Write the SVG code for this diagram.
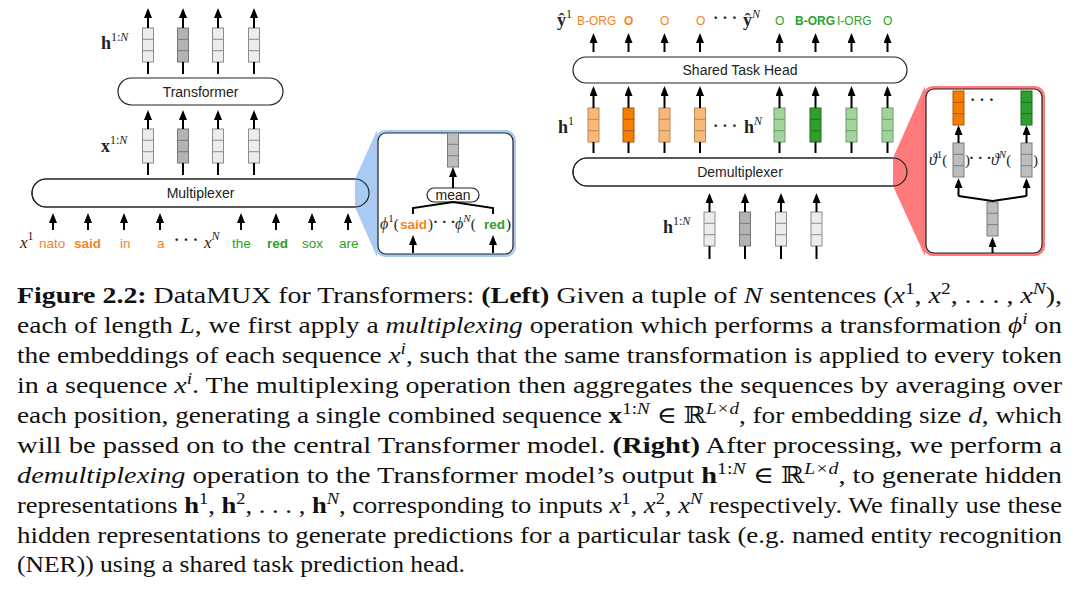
<svg xmlns="http://www.w3.org/2000/svg" xmlns:xlink="http://www.w3.org/1999/xlink" width="1080" height="591" viewBox="0 0 1080 591">
<style>
.pill{fill:#fff;stroke:#222;stroke-width:1.2;}
.lbl{font-family:"Liberation Sans",Arial,sans-serif;font-size:14px;fill:#222;text-anchor:middle;}
.w{font-family:"Liberation Sans",Arial,sans-serif;font-size:13.5px;}
.t{font-family:"Liberation Sans",Arial,sans-serif;font-size:12px;}
.or{fill:#f5841f;}
.gr{fill:#2ca02c;}
.b{font-weight:bold;}
.m{font-family:"Liberation Serif","DejaVu Serif",serif;fill:#222;}
.arr line{stroke:#000;stroke-width:2;marker-end:url(#ah);}
.ln{stroke:#000;stroke-width:2;fill:none;}
.lg{fill:#ececec;stroke:#8c8c8c;}
.dg{fill:#b3b3b3;stroke:#777;}
.cg{fill:#bdbdbd;stroke:#7c7c7c;}
.lo{fill:#f9b778;stroke:#b8895a;}
.do{fill:#f57e00;stroke:#a85a10;}
.lgr{fill:#a1d49a;stroke:#6f9a6a;}
.dgr{fill:#2e9e2e;stroke:#1f6f1f;}
.cap{font-family:"Liberation Serif","DejaVu Serif",serif;font-size:23px;fill:#111;}
</style>
<defs>
<marker id="ah" viewBox="0 0 10 8" refX="7" refY="4" markerWidth="10" markerHeight="8" markerUnits="userSpaceOnUse" orient="auto"><path d="M0,0 L10,4 L0,8 z" fill="#000"/></marker>
<g id="vec" stroke-width="1"><rect x="-5.5" y="0" width="11" height="34"/><line x1="-5.5" y1="11.3" x2="5.5" y2="11.3"/><line x1="-5.5" y1="22.7" x2="5.5" y2="22.7"/></g>
</defs>

<g id="transformer"><rect class="pill" x="118" y="78" width="165" height="27" rx="13.5"/><text class="lbl" x="200.5" y="96.5">Transformer</text></g>
<g id="multiplexer"><rect class="pill" x="32" y="179" width="337" height="28" rx="14"/></g>
<g id="mux-callout">
<polygon points="355,179 377,130 377,257 355,207" fill="#a9cbf3"/>
<rect x="375" y="130" width="141" height="127" rx="10" fill="#a9cbf3"/>
<rect x="378" y="133" width="135" height="121" rx="8" fill="#fff" stroke="#222" stroke-width="1.2"/>
</g>
<g id="multiplexer-outline"><rect x="32" y="179" width="337" height="28" rx="14" fill="none" stroke="#222" stroke-width="1.2"/><text class="lbl" x="200.5" y="198">Multiplexer</text></g>

<g id="h-left">
<use xlink:href="#vec" class="lg" transform="translate(148,28)"/>
<use xlink:href="#vec" class="dg" transform="translate(183,28)"/>
<use xlink:href="#vec" class="lg" transform="translate(218,28)"/>
<use xlink:href="#vec" class="lg" transform="translate(254,28)"/>
<text class="m" x="101" y="49" font-size="18" font-weight="bold">h<tspan dy="-8" font-size="12" font-weight="normal">1:<tspan font-style="italic">N</tspan></tspan></text>
</g>
<g id="x-left">
<use xlink:href="#vec" class="lg" transform="translate(148,129)"/>
<use xlink:href="#vec" class="dg" transform="translate(183,129)"/>
<use xlink:href="#vec" class="lg" transform="translate(218,129)"/>
<use xlink:href="#vec" class="lg" transform="translate(254,129)"/>
<text class="m" x="101" y="152" font-size="18" font-weight="bold">x<tspan dy="-8" font-size="12" font-weight="normal">1:<tspan font-style="italic">N</tspan></tspan></text>
</g>
<g id="inputs">
<text class="m" x="20" y="248" font-size="17" font-style="italic">x<tspan dy="-8" font-size="12" font-style="normal">1</tspan></text>
<text class="w or" x="39" y="248">nato</text>
<text class="w or b" x="74" y="248">said</text>
<text class="w or" x="120" y="248">in</text>
<text class="w or" x="157" y="248">a</text>
<text class="m" x="174" y="245" font-size="16" font-weight="bold">· · ·</text>
<text class="m" x="204" y="248" font-size="17" font-style="italic">x<tspan dy="-8" font-size="12">N</tspan></text>
<text class="w gr" x="232" y="248">the</text>
<text class="w gr b" x="267" y="248">red</text>
<text class="w gr" x="302" y="248">sox</text>
<text class="w gr" x="339" y="248">are</text>
</g>
<g id="mux-detail">
<use xlink:href="#vec" class="cg" transform="translate(453,133)"/>
<rect class="pill" x="427" y="188" width="52" height="14" rx="7"/>
<text class="lbl" x="453" y="200" font-size="14.5">mean</text>
<text x="380" y="229" class="m" font-size="16" font-style="italic">ϕ<tspan dy="-7" font-size="11" font-style="normal">1</tspan><tspan dy="7" font-style="normal" font-size="15">(</tspan></text>
<text class="w or b" x="400" y="229" font-size="14">said</text>
<text class="m" x="428" y="229" font-size="15">)</text>
<text class="m" x="433" y="227" font-size="15" font-weight="bold">· · ·</text>
<text x="455" y="229" class="m" font-size="16" font-style="italic">ϕ<tspan dy="-7" font-size="11">N</tspan><tspan dy="7" font-style="normal" font-size="15">(</tspan></text>
<text class="w gr b" x="484" y="229">red</text>
<text class="m" x="506" y="229" font-size="15">)</text>
</g>

<g id="shared-task-head"><rect class="pill" x="573" y="57" width="334" height="26" rx="13"/><text class="lbl" x="740" y="75">Shared Task Head</text></g>
<g id="demultiplexer"><rect class="pill" x="573" y="158" width="334" height="28" rx="14"/></g>
<g id="demux-callout">
<polygon points="893,158 925,86 925,256 893,186" fill="#ff7a7a"/>
<rect x="923" y="86" width="122" height="170" rx="10" fill="#ff7a7a"/>
<rect x="926" y="89" width="116" height="164" rx="8" fill="#fff" stroke="#222" stroke-width="1.2"/>
</g>
<g id="demultiplexer-outline"><rect x="573" y="158" width="334" height="28" rx="14" fill="none" stroke="#222" stroke-width="1.2"/><text class="lbl" x="740" y="177">Demultiplexer</text></g>

<g id="outputs">
<text class="m" x="557" y="26" font-size="18" font-weight="bold">ŷ<tspan dy="-8" font-size="12" font-weight="normal">1</tspan></text>
<text class="t or" x="577" y="25">B-ORG</text>
<text class="t or b" x="624" y="25">O</text>
<text class="t or" x="660" y="25">O</text>
<text class="t or" x="696" y="25">O</text>
<text class="m" x="713" y="23" font-size="16" font-weight="bold">· · ·</text>
<text class="m" x="743" y="26" font-size="18" font-weight="bold">ŷ<tspan dy="-8" font-size="12" font-weight="normal" font-style="italic">N</tspan></text>
<text class="t gr" x="775" y="25">O</text>
<text class="t gr b" x="795" y="25">B-ORG</text>
<text class="t gr" x="837" y="25">I-ORG</text>
<text class="t gr" x="883" y="25">O</text>
</g>
<g id="h-right">
<use xlink:href="#vec" class="lo" transform="translate(593.5,108)"/>
<use xlink:href="#vec" class="do" transform="translate(628.5,108)"/>
<use xlink:href="#vec" class="lo" transform="translate(664.5,108)"/>
<use xlink:href="#vec" class="lo" transform="translate(700,108)"/>
<use xlink:href="#vec" class="lgr" transform="translate(779.5,108)"/>
<use xlink:href="#vec" class="dgr" transform="translate(815.5,108)"/>
<use xlink:href="#vec" class="lgr" transform="translate(851.5,108)"/>
<use xlink:href="#vec" class="lgr" transform="translate(887.5,108)"/>
<text class="m" x="558" y="133" font-size="18" font-weight="bold">h<tspan dy="-8" font-size="12" font-weight="normal">1</tspan></text>
<text class="m" x="713" y="131" font-size="16" font-weight="bold">· · ·</text>
<text class="m" x="744" y="133" font-size="18" font-weight="bold">h<tspan dy="-8" font-size="12" font-weight="normal" font-style="italic">N</tspan></text>
</g>
<g id="h-in-right">
<use xlink:href="#vec" class="lg" transform="translate(709.5,212)"/>
<use xlink:href="#vec" class="dg" transform="translate(745,212)"/>
<use xlink:href="#vec" class="lg" transform="translate(781,212)"/>
<use xlink:href="#vec" class="lg" transform="translate(816.5,212)"/>
<text class="m" x="663" y="233" font-size="18" font-weight="bold">h<tspan dy="-8" font-size="12" font-weight="normal">1:<tspan font-style="italic">N</tspan></tspan></text>
</g>
<g id="demux-detail">
<use xlink:href="#vec" class="do" transform="translate(958.5,91)"/>
<use xlink:href="#vec" class="dgr" transform="translate(1026.5,91)"/>
<text class="m" x="970" y="105" font-size="16" font-weight="bold">· · ·</text>
<use xlink:href="#vec" class="cg" transform="translate(958.5,143)"/>
<use xlink:href="#vec" class="cg" transform="translate(1026.5,143)"/>
<use xlink:href="#vec" class="cg" transform="translate(992.5,202)"/>
<text class="m" x="929" y="165" font-size="16" font-style="italic">ϑ<tspan dy="-7" font-size="11" font-style="normal">1</tspan><tspan dy="7" font-style="normal" font-size="15">(</tspan></text>
<text class="m" x="965" y="165" font-size="15">)</text>
<text class="m" x="969" y="163" font-size="15" font-weight="bold">· · ·</text>
<text class="m" x="991" y="165" font-size="16" font-style="italic">ϑ<tspan dy="-7" font-size="11">N</tspan><tspan dy="7" font-style="normal" font-size="15">(</tspan></text>
<text class="m" x="1033" y="165" font-size="15">)</text>
</g>

<g id="connectors">
<g class="arr">
<line x1="148" y1="28" x2="148" y2="11"/><line x1="183" y1="28" x2="183" y2="11"/><line x1="218" y1="28" x2="218" y2="11"/><line x1="254" y1="28" x2="254" y2="11"/>
<line x1="148" y1="129" x2="148" y2="113"/><line x1="183" y1="129" x2="183" y2="113"/><line x1="218" y1="129" x2="218" y2="113"/><line x1="254" y1="129" x2="254" y2="113"/>
<line x1="53" y1="230" x2="53" y2="216"/><line x1="88" y1="230" x2="88" y2="216"/><line x1="124" y1="230" x2="124" y2="216"/><line x1="160" y1="230" x2="160" y2="216"/>
<line x1="241" y1="230" x2="241" y2="216"/><line x1="276" y1="230" x2="276" y2="216"/><line x1="312" y1="230" x2="312" y2="216"/><line x1="348" y1="230" x2="348" y2="216"/>
<line x1="453" y1="188" x2="453" y2="170"/>
<line x1="413" y1="253" x2="413" y2="238"/><line x1="493" y1="253" x2="493" y2="238"/>
<line x1="593.5" y1="52" x2="593.5" y2="36"/><line x1="628.5" y1="52" x2="628.5" y2="36"/><line x1="664.5" y1="52" x2="664.5" y2="36"/><line x1="700" y1="52" x2="700" y2="36"/>
<line x1="779.5" y1="52" x2="779.5" y2="36"/><line x1="815.5" y1="52" x2="815.5" y2="36"/><line x1="851.5" y1="52" x2="851.5" y2="36"/><line x1="887.5" y1="52" x2="887.5" y2="36"/>
<line x1="593.5" y1="108" x2="593.5" y2="89"/><line x1="628.5" y1="108" x2="628.5" y2="89"/><line x1="664.5" y1="108" x2="664.5" y2="89"/><line x1="700" y1="108" x2="700" y2="89"/>
<line x1="779.5" y1="108" x2="779.5" y2="89"/><line x1="815.5" y1="108" x2="815.5" y2="89"/><line x1="851.5" y1="108" x2="851.5" y2="89"/><line x1="887.5" y1="108" x2="887.5" y2="89"/>
<line x1="709.5" y1="212" x2="709.5" y2="196"/><line x1="745" y1="212" x2="745" y2="196"/><line x1="781" y1="212" x2="781" y2="196"/><line x1="816.5" y1="212" x2="816.5" y2="196"/>
<line x1="958.5" y1="143" x2="958.5" y2="128"/><line x1="1026.5" y1="143" x2="1026.5" y2="128"/>
<line x1="958.5" y1="196" x2="958.5" y2="181"/><line x1="1026.5" y1="196" x2="1026.5" y2="181"/>
<line x1="992.5" y1="253" x2="992.5" y2="240"/>
</g>
<path class="ln" d="M148,62V74M183,62V74M218,62V74M254,62V74"/>
<path class="ln" d="M148,163V175M183,163V175M218,163V175M254,163V175"/>
<path class="ln" d="M413,214V208L453,202L493,208V214"/>
<path class="ln" d="M593.5,142V153M628.5,142V153M664.5,142V153M700,142V153M779.5,142V153M815.5,142V153M851.5,142V153M887.5,142V153"/>
<path class="ln" d="M709.5,246V259M745,246V259M781,246V259M816.5,246V259"/>
<path class="ln" d="M958.5,196L992.5,201L1026.5,196"/>
</g>

<g id="caption">
<text class="cap" x="17" y="303" textLength="1045" lengthAdjust="spacingAndGlyphs"><tspan font-weight="bold">Figure 2.2:</tspan> DataMUX for Transformers: <tspan font-weight="bold">(Left)</tspan> Given a tuple of <tspan font-style="italic">N</tspan> sentences (<tspan font-style="italic">x</tspan><tspan dy="-9" font-size="16">1</tspan><tspan dy="9">, </tspan><tspan font-style="italic">x</tspan><tspan dy="-9" font-size="16">2</tspan><tspan dy="9">, . . . , </tspan><tspan font-style="italic">x</tspan><tspan dy="-9" font-size="16" font-style="italic">N</tspan><tspan dy="9">),</tspan></text>
<text class="cap" x="17" y="333" textLength="1045" lengthAdjust="spacingAndGlyphs">each of length <tspan font-style="italic">L</tspan>, we first apply a <tspan font-style="italic">multiplexing</tspan> operation which performs a transformation <tspan font-style="italic">ϕ</tspan><tspan dy="-9" font-size="16" font-style="italic">i</tspan><tspan dy="9"> on</tspan></text>
<text class="cap" x="17" y="363" textLength="1045" lengthAdjust="spacingAndGlyphs">the embeddings of each sequence <tspan font-style="italic">x</tspan><tspan dy="-9" font-size="16" font-style="italic">i</tspan><tspan dy="9">, such that the same transformation is applied to every token</tspan></text>
<text class="cap" x="17" y="393" textLength="1045" lengthAdjust="spacingAndGlyphs">in a sequence <tspan font-style="italic">x</tspan><tspan dy="-9" font-size="16" font-style="italic">i</tspan><tspan dy="9">.  The multiplexing operation then aggregates the sequences by averaging over</tspan></text>
<text class="cap" x="17" y="423" textLength="1045" lengthAdjust="spacingAndGlyphs">each position, generating a single combined sequence <tspan font-weight="bold">x</tspan><tspan dy="-9" font-size="16">1:<tspan font-style="italic">N</tspan></tspan><tspan dy="9"> ∈ ℝ</tspan><tspan dy="-9" font-size="16" font-style="italic">L×d</tspan><tspan dy="9">, for embedding size </tspan><tspan font-style="italic">d</tspan>, which</text>
<text class="cap" x="17" y="453" textLength="1045" lengthAdjust="spacingAndGlyphs">will be passed on to the central Transformer model.  <tspan font-weight="bold">(Right)</tspan> After processing, we perform a</text>
<text class="cap" x="17" y="483" textLength="1045" lengthAdjust="spacingAndGlyphs"><tspan font-style="italic">demultiplexing</tspan> operation to the Transformer model’s output <tspan font-weight="bold">h</tspan><tspan dy="-9" font-size="16">1:<tspan font-style="italic">N</tspan></tspan><tspan dy="9"> ∈ ℝ</tspan><tspan dy="-9" font-size="16" font-style="italic">L×d</tspan><tspan dy="9">, to generate hidden</tspan></text>
<text class="cap" x="17" y="513" textLength="1045" lengthAdjust="spacingAndGlyphs">representations <tspan font-weight="bold">h</tspan><tspan dy="-9" font-size="16">1</tspan><tspan dy="9">, </tspan><tspan font-weight="bold">h</tspan><tspan dy="-9" font-size="16">2</tspan><tspan dy="9">, . . . , </tspan><tspan font-weight="bold">h</tspan><tspan dy="-9" font-size="16" font-style="italic">N</tspan><tspan dy="9">, corresponding to inputs </tspan><tspan font-style="italic">x</tspan><tspan dy="-9" font-size="16">1</tspan><tspan dy="9">, </tspan><tspan font-style="italic">x</tspan><tspan dy="-9" font-size="16">2</tspan><tspan dy="9">, </tspan><tspan font-style="italic">x</tspan><tspan dy="-9" font-size="16" font-style="italic">N</tspan><tspan dy="9"> respectively. We finally use these</tspan></text>
<text class="cap" x="17" y="543" textLength="1045" lengthAdjust="spacingAndGlyphs">hidden representations to generate predictions for a particular task (e.g. named entity recognition</text>
<text class="cap" x="17" y="572" textLength="448" lengthAdjust="spacingAndGlyphs">(NER)) using a shared task prediction head.</text>
</g>
</svg>
